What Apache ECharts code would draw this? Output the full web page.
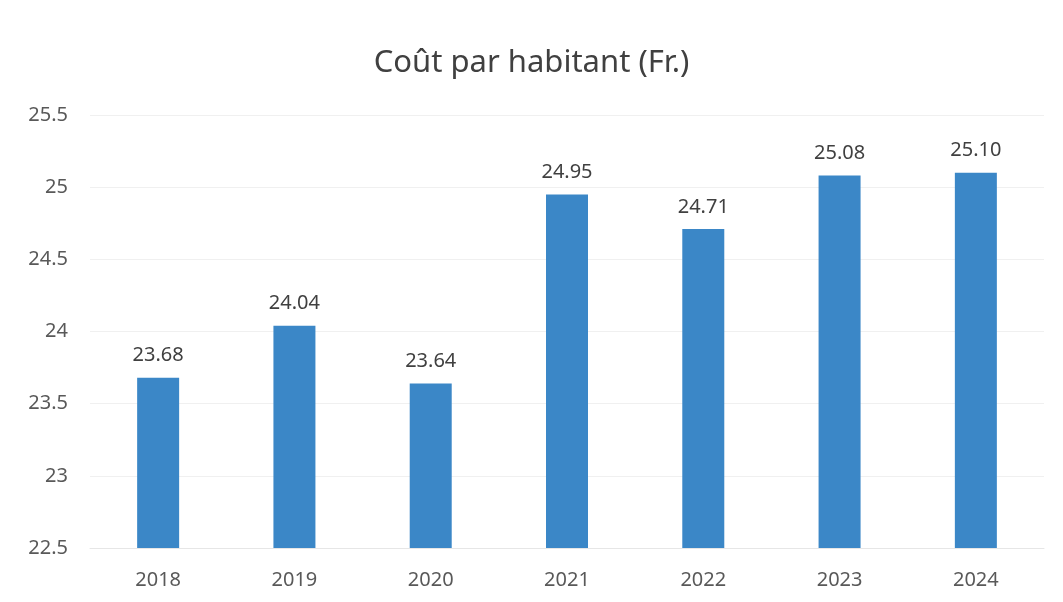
<!DOCTYPE html>
<html>
<head>
<meta charset="utf-8">
<script src="https://cdn.jsdelivr.net/npm/echarts@6/dist/echarts.min.js"></script>
<style>
  html, body { margin: 0; padding: 0; background: #fff; }
  #chart1 { width: 1063px; height: 602px; }
</style>
</head>
<body>
<div id="chart1"></div>
<script>
var years = ['2018', '2019', '2020', '2021', '2022', '2023', '2024'];
var costs = [23.68, 24.04, 23.64, 24.95, 24.71, 25.08, 25.10];
var yTicks = [22.5, 23, 23.5, 24, 24.5, 25, 25.5];

var myChart = echarts.init(document.getElementById('chart1'));
var font = 'Noto Sans';
// 指定图表的配置项和数据
var option = {
    animation: false,
    title: {
        text: 'Coût par habitant (Fr.)',
        left: 'center',
        top: 43,
        textStyle: {
            fontFamily: font,
            fontSize: 31,
            fontWeight: 'normal',
            color: '#404040'
        }
    },
    grid: {
        left: 90,
        right: 19,
        top: 115,
        bottom: 54
    },
    xAxis: {
        type: 'category',
        data: years,
        axisLine: {lineStyle: {color: '#e6e6e6'}},
        axisTick: {show: false},
        axisLabel: {
            color: '#595959',
            fontFamily: font,
            fontSize: 20,
            margin: 22
        }
    },
    yAxis: {
        type: 'value',
        min: yTicks[0],
        max: yTicks[yTicks.length - 1],
        interval: 0.5,
        axisLine: {show: false},
        axisTick: {show: false},
        splitLine: {lineStyle: {color: '#f0f0f0'}},
        axisLabel: {
            color: '#595959',
            fontFamily: font,
            fontSize: 20,
            margin: 22
        }
    },
    series: [{
        name: 'Coût par habitant',
        type: 'bar',
        data: costs,
        barWidth: 42,
        itemStyle: {color: '#3b87c7'},
        label: {
            show: true,
            position: 'top',
            distance: 12,
            color: '#404040',
            fontFamily: font,
            fontSize: 20,
            formatter: function (p) {
                return p.value.toFixed(2);
            }
        }
    }]
};

// 使用刚指定的配置项和数据显示图表。
myChart.setOption(option);
</script>
</body>
</html>
